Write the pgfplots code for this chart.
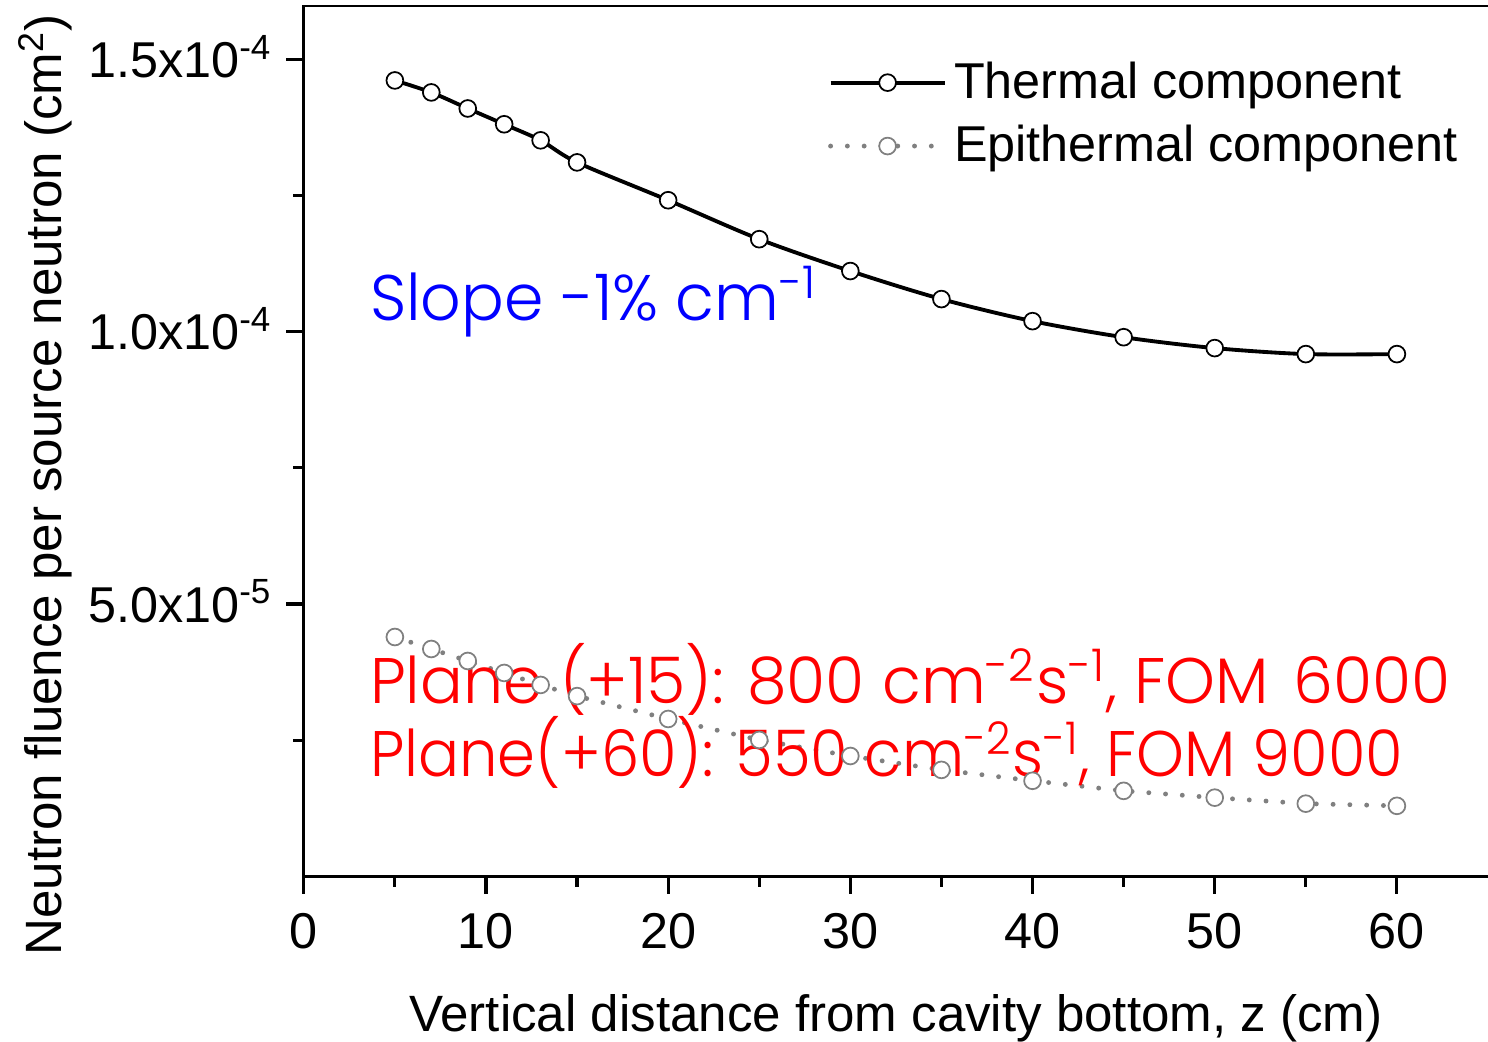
\documentclass[border=0pt]{standalone}
\usepackage{fontspec}
\setmainfont{Liberation Sans}
\newfontfamily\gothic{Poppins}[UprightFont=* Light, FakeStretch=0.985]
\newfontfamily\gothicnarrow{Poppins}[UprightFont=* Light, FakeStretch=0.945]
\usepackage{pgfplots}
\pgfplotsset{compat=1.18}

\begin{document}
\begin{tikzpicture}
\begin{axis}[
    name=ax,
    scale only axis,
    width=338.6pt, height=249.14pt,
    xmin=0, xmax=65, ymin=0, ymax=1.6e-4,
    axis lines=left,
    axis line style={-, line width=0.9pt},
    tick align=outside,
    major tick length=5pt, minor tick length=3pt,
    every tick/.style={line width=0.9pt, black},
    xtick={0,10,...,60}, minor xtick={5,15,...,55},
    ytick={5e-5,1e-4,1.5e-4},
    minor ytick={2.5e-5,7.5e-5,1.25e-4},
    yticklabels={5.0x10\textsuperscript{-5}, 1.0x10\textsuperscript{-4}, 1.5x10\textsuperscript{-4}},
    scaled y ticks=false,
    /pgf/number format/assume math mode=true,
    tick label style={font=\fontsize{14.4}{17}\selectfont},
    yticklabel style={anchor=base east, yshift=-5.15pt, xshift=-0.5pt},
    xticklabel style={anchor=base, yshift=-15.7pt},
    label style={font=\fontsize{14.6}{17}\selectfont},
    xlabel={Vertical distance from cavity bottom, z (cm)},
    xlabel style={at={(rel axis cs:0.5,0)}, anchor=base, yshift=-44.3pt},
    ylabel={Neutron fluence per source neutron (cm\textsuperscript{2})},
    ylabel style={at={(rel axis cs:-0.2042,0.4495)}, anchor=base},
    legend style={draw=none, fill=none, at={(rel axis cs:0.4422,0.9437)}, anchor=north west,
        inner sep=0pt, row sep=2.2pt, font=\fontsize{14.4}{17}\selectfont},
    legend cell align=left,
    legend image code/.code={\draw[mark repeat=2,mark phase=2,#1] plot coordinates {(0pt,0pt) (16.3pt,0pt) (32.6pt,0pt)};},
]

% Thermal component
\addplot[black, line width=1.1pt, smooth, mark=*, mark size=2.4pt,
    mark options={solid, fill=white, draw=black, line width=0.5pt}] coordinates {
    (5,1.4615e-4) (7,1.4395e-4) (9,1.410e-4) (11,1.381e-4) (13,1.3515e-4)
    (15,1.311e-4) (20,1.2415e-4) (25,1.170e-4) (30,1.1115e-4) (35,1.060e-4)
    (40,1.0195e-4) (45,0.990e-4) (50,0.970e-4) (55,0.959e-4) (60,0.959e-4)
};
\addlegendentry{Thermal component}

% Epithermal component
\addplot[gray, line width=1.4pt, line cap=round, dash pattern=on 0pt off 4.8pt,
    mark=*, mark size=2.4pt,
    mark options={solid, fill=white, draw=gray, line width=0.5pt}] coordinates {
    (5,4.395e-5) (7,4.175e-5) (9,3.955e-5) (11,3.735e-5) (13,3.515e-5)
    (15,3.31e-5) (20,2.89e-5) (25,2.505e-5) (30,2.21e-5) (35,1.955e-5)
    (40,1.755e-5) (45,1.57e-5) (50,1.445e-5) (55,1.335e-5) (60,1.295e-5)
};
\addlegendentry{Epithermal component}

\draw[line width=0.9pt] (rel axis cs:0,1) -- (rel axis cs:1,1);

\node[anchor=base west, inner sep=0pt, text=blue, font=\gothic\fontsize{18.4}{22}\selectfont]
    at (axis cs:3.6,1.02e-4) {Slope -1\% cm\textsuperscript{-1}};
\node[anchor=base west, inner sep=0pt, text=red, font=\gothic\fontsize{18.4}{22}\selectfont]
    at (axis cs:3.6,3.17e-5) {Plane (+15): 800 cm\textsuperscript{-2}s\textsuperscript{-1}, FOM\hspace{2pt} 6000};
\node[anchor=base west, inner sep=0pt, text=red, font=\gothicnarrow\fontsize{18.4}{22}\selectfont]
    at (axis cs:3.6,1.83e-5) {Plane(+60): 550 cm\textsuperscript{-2}s\textsuperscript{-1}, FOM 9000};
\end{axis}
\pgfresetboundingbox
\path[use as bounding box] ([shift={(-86.86pt,-47.14pt)}]ax.south west) rectangle ([shift={(0pt,1.43pt)}]ax.north east);
\end{tikzpicture}
\end{document}
